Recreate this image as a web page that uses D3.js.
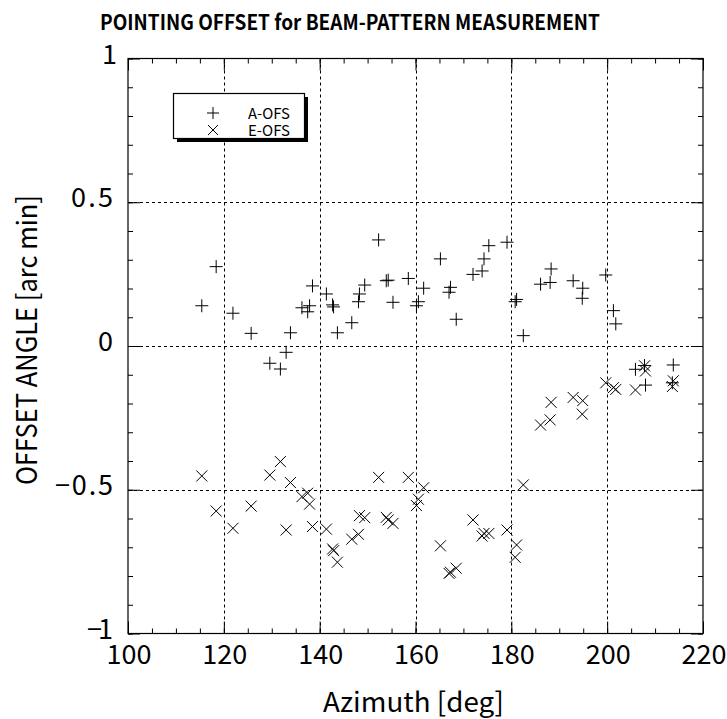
<!DOCTYPE html>
<html>
<head>
<meta charset="utf-8">
<script src="https://cdn.jsdelivr.net/npm/d3@7"></script>
<style>
  body { margin: 0; background: #fff; }
  text { font-family: 'Noto Sans CJK JP', 'DejaVu Sans', sans-serif; fill: #000; }
</style>
</head>
<body>
<svg id="pointing" width="727" height="719"></svg>
<script>
// azimuth of each measurement [deg]
const azimuth = [115.4, 118.4, 121.9, 125.7, 129.6, 131.8, 133.0, 133.9, 136.3, 137.5,
    137.9, 138.5, 141.4, 142.7, 142.9, 143.7, 146.7, 148.1, 148.3, 149.4,
    152.3, 153.9, 154.3, 155.3, 158.5, 160.2, 160.6, 161.7, 165.2, 167.0,
    167.3, 168.5, 172.0, 173.9, 174.3, 175.3, 179.1, 180.8, 181.1, 182.5,
    186.1, 188.1, 188.3, 192.9, 194.9, 194.8, 199.7, 201.3, 201.8, 205.9,
    207.8, 208.0, 213.6, 213.8]
// A-OFS [arc min]
const aOfs = [0.140, 0.276, 0.114, 0.044, -0.060, -0.080, -0.022, 0.046, 0.133, 0.119,
    0.140, 0.209, 0.181, 0.143, 0.136, 0.046, 0.081, 0.154, 0.181, 0.212,
    0.369, 0.227, 0.229, 0.152, 0.235, 0.140, 0.154, 0.201, 0.303, 0.187,
    0.204, 0.093, 0.249, 0.261, 0.303, 0.349, 0.361, 0.154, 0.162, 0.036,
    0.215, 0.221, 0.268, 0.227, 0.201, 0.166, 0.247, 0.123, 0.077, -0.081,
    -0.068, -0.136, -0.128, -0.066]
// E-OFS [arc min]
const eOfs = [-0.452, -0.574, -0.634, -0.557, -0.449, -0.402, -0.640, -0.475, -0.524, -0.512,
    -0.550, -0.628, -0.637, -0.706, -0.712, -0.752, -0.672, -0.655, -0.590, -0.597,
    -0.457, -0.596, -0.605, -0.617, -0.457, -0.555, -0.533, -0.493, -0.695, -0.791,
    -0.787, -0.773, -0.605, -0.661, -0.652, -0.652, -0.640, -0.735, -0.692, -0.483,
    -0.275, -0.257, -0.196, -0.179, -0.190, -0.237, -0.128, -0.145, -0.151, -0.153,
    -0.069, -0.087, -0.141, -0.121]

const xMajor = [100, 120, 140, 160, 180, 200, 220]
const yMajor = [-1, -0.5, 0, 0.5, 1]
const yLabels = ['\u22121', '\u22120.5', '0', '0.5', '1']
const seriesNames = ['A-OFS', 'E-OFS']

function main() {
    let svg = d3.select('#pointing'),
        left = 128, right = 703, top = 58.5, bottom = 633.5

    let x = d3.scaleLinear().domain([100, 220]).range([left, right]),
        y = d3.scaleLinear().domain([-1, 1]).range([bottom, top])

    let xMinor = d3.range(100, 221, 5),
        yMinor = d3.range(-10, 11).map(d => d / 10)

    // widths of the y labels, the original font spaces them out
    let yLabelWidth = {'\u22121': 26, '\u22120.5': 58, '0': 15, '0.5': 42, '1': 11}

    // dotted grid
    let grid = svg.append('g').attr('class', 'grid')
        .attr('stroke', '#000').attr('stroke-width', 1).attr('stroke-dasharray', '3,3')
    grid.selectAll('.gx')
        .data(xMajor.slice(1, -1))
        .enter().append('line')
        .attr('x1', d => Math.round(x(d)) + 0.5).attr('x2', d => Math.round(x(d)) + 0.5)
        .attr('y1', top).attr('y2', bottom)
    grid.selectAll('.gy')
        .data(yMajor.slice(1, -1))
        .enter().append('line')
        .attr('y1', d => Math.round(y(d)) + 0.5).attr('y2', d => Math.round(y(d)) + 0.5)
        .attr('x1', left).attr('x2', right)

    // inward ticks on all four sides
    const tickAxis = (gen, values, size) => gen.tickValues(values).tickSize(-size).tickFormat('')
    const sides = [
        [d3.axisBottom(x), xMinor, 'translate(0,' + bottom + ')', 5],
        [d3.axisBottom(x), xMajor, 'translate(0,' + bottom + ')', 12],
        [d3.axisTop(x), xMinor, 'translate(0,' + top + ')', 5],
        [d3.axisTop(x), xMajor, 'translate(0,' + top + ')', 12],
        [d3.axisLeft(y), yMinor, 'translate(' + left + ',0)', 5],
        [d3.axisLeft(y), yMajor, 'translate(' + left + ',0)', 12],
        [d3.axisRight(y), yMinor, 'translate(' + right + ',0)', 5],
        [d3.axisRight(y), yMajor, 'translate(' + right + ',0)', 12]
    ]
    sides.forEach(s => {
        let a = svg.append('g').attr('transform', s[2]).call(tickAxis(s[0], s[1], s[3]))
        a.select('.domain').remove()
        a.selectAll('line').attr('stroke', '#000')
    })

    // frame
    svg.append('rect')
        .attr('x', left).attr('y', top)
        .attr('width', right - left).attr('height', bottom - top)
        .attr('fill', 'none').attr('stroke', '#000').attr('stroke-width', 1.2)

    // tick labels
    svg.append('g').selectAll('text')
        .data(xMajor)
        .enter().append('text')
        .attr('x', d => x(d) + 1)
        .attr('y', 664)
        .attr('text-anchor', 'middle')
        .attr('font-size', 27)
        .text(d => d)

    svg.append('g').selectAll('text')
        .data(yMajor)
        .enter().append('text')
        .attr('x', (d, i) => 113 - yLabelWidth[yLabels[i]])
        .attr('y', d => y(d) + 5)
        .attr('font-size', 27)
        .attr('textLength', (d, i) => yLabelWidth[yLabels[i]])
        .attr('lengthAdjust', 'spacing')
        .text((d, i) => yLabels[i])

    // titles
    svg.append('text')
        .attr('x', 100).attr('y', 30)
        .attr('font-size', 21).attr('font-weight', 'bold')
        .attr('textLength', 500).attr('lengthAdjust', 'spacingAndGlyphs')
        .text('POINTING OFFSET for BEAM-PATTERN MEASUREMENT')

    svg.append('text')
        .attr('x', 323).attr('y', 712)
        .attr('font-size', 27)
        .attr('textLength', 181).attr('lengthAdjust', 'spacingAndGlyphs')
        .text('Azimuth [deg]')

    svg.append('text')
        .attr('transform', 'translate(37,485) rotate(-90)')
        .attr('font-size', 28)
        .attr('textLength', 290).attr('lengthAdjust', 'spacingAndGlyphs')
        .text('OFFSET ANGLE [arc min]')

    // markers
    const plus = (sel, s) => sel.append('path')
        .attr('d', 'M' + (-s) + ',0H' + s + 'M0,' + (-s) + 'V' + s)
    const cross = (sel, s) => sel.append('path')
        .attr('d', 'M' + (-s) + ',' + (-s) + 'L' + s + ',' + s + 'M' + (-s) + ',' + s + 'L' + s + ',' + (-s))

    let pts = svg.append('g').attr('stroke', '#000').attr('stroke-width', 1).attr('fill', 'none')
    pts.selectAll('.a')
        .data(azimuth.map((d, i) => [d, aOfs[i]]))
        .enter().append('g')
        .attr('transform', d => 'translate(' + x(d[0]) + ',' + y(d[1]) + ')')
        .each(function () { plus(d3.select(this), 6.5) })
    pts.selectAll('.e')
        .data(azimuth.map((d, i) => [d, eOfs[i]]))
        .enter().append('g')
        .attr('transform', d => 'translate(' + x(d[0]) + ',' + y(d[1]) + ')')
        .each(function () { cross(d3.select(this), 5.5) })

    // legend with drop shadow
    let legend = svg.append('g').attr('class', 'legend')
    legend.append('rect')
        .attr('x', 177).attr('y', 97).attr('width', 131).attr('height', 45)
        .attr('fill', '#000')
    legend.append('rect')
        .attr('x', 173.5).attr('y', 93.5).attr('width', 131).attr('height', 45)
        .attr('fill', '#fff').attr('stroke', '#000').attr('stroke-width', 1.2)
    let items = legend.selectAll('.cell')
        .data(seriesNames)
        .enter().append('g')
        .attr('transform', (d, i) => 'translate(0,' + (i * 17) + ')')
    items.append('g')
        .attr('transform', 'translate(213,113)')
        .attr('stroke', '#000').attr('fill', 'none')
        .each(function (d, i) { i === 0 ? plus(d3.select(this), 6) : cross(d3.select(this), 5) })
    items.append('text')
        .attr('x', 248).attr('y', 118.5)
        .attr('font-size', 15)
        .attr('textLength', 42).attr('lengthAdjust', 'spacingAndGlyphs')
        .text(d => d)
}

main()
</script>
</body>
</html>
